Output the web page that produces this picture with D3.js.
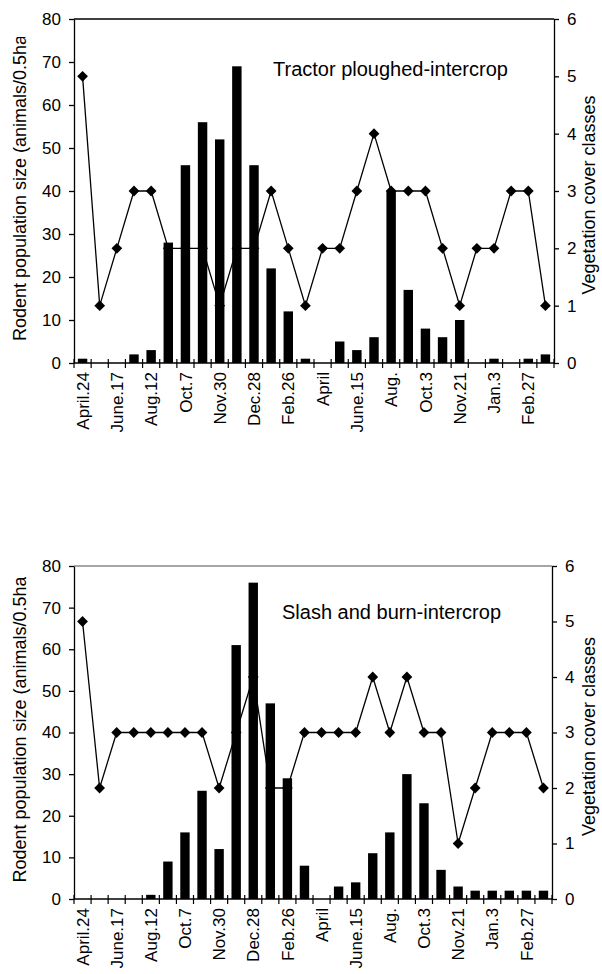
<!DOCTYPE html>
<html>
<head>
<meta charset="utf-8">
<script src="https://d3js.org/d3.v7.min.js"></script>
<style>
  body { margin: 0; background: #fff; }
  text { font-family: "Liberation Sans", Arial, sans-serif; fill: #000; }
</style>
</head>
<body>
<svg width="602" height="974"></svg>
<script>
// sampling dates, only every other one is labelled
var dates = ["April.24", "", "June.17", "", "Aug.12", "", "Oct.7", "", "Nov.30", "", "Dec.28", "",
  "Feb.26", "", "April", "", "June.15", "", "Aug.", "", "Oct.3", "", "Nov.21", "", "Jan.3", "", "Feb.27", ""]

var tractorRodents = [1, 0, 0, 2, 3, 28, 46, 56, 52, 69, 46, 22, 12, 1, 0, 5, 3, 6, 40, 17, 8, 6, 10, 0, 1, 0, 1, 2]
var tractorCover = [5, 1, 2, 3, 3, 2, 2, 2, 1, 2, 2, 3, 2, 1, 2, 2, 3, 4, 3, 3, 3, 2, 1, 2, 2, 3, 3, 1]

var slashRodents = [0, 0, 0, 0, 1, 9, 16, 26, 12, 61, 76, 47, 29, 8, 0, 3, 4, 11, 16, 30, 23, 7, 3, 2, 2, 2, 2, 2]
var slashCover = [5, 2, 3, 3, 3, 3, 3, 3, 2, 3, 4, 2, 2, 3, 3, 3, 3, 4, 3, 4, 3, 3, 1, 2, 3, 3, 3, 2]

var rodentTicks = [0, 10, 20, 30, 40, 50, 60, 70, 80]
var coverTicks = [0, 1, 2, 3, 4, 5, 6]

var leftTitle = "Rodent population size (animals/0.5ha)"
var rightTitle = "Vegetation cover classes"

var panels = [
  { title: "Tractor ploughed-intercrop", rodents: tractorRodents, cover: tractorCover,
    top: 19, bottom: 363, left: 74, right: 554, clipTop: 37, border: "#000", tx: 273, ty: 76 },
  { title: "Slash and burn-intercrop", rodents: slashRodents, cover: slashCover,
    top: 566, bottom: 899, left: 74, right: 552, clipTop: 577, border: "#888", tx: 282, ty: 619 }
]

var svg = d3.select('svg')

panels.forEach(function(p, pi) {
  var g = svg.append('g')

  var x = d3.scaleBand()
    .domain(d3.range(dates.length))
    .range([p.left, p.right])
  var xEdge = d3.scaleLinear()
    .domain([0, dates.length])
    .range([p.left, p.right])
  var yL = d3.scaleLinear().domain([0, 80]).range([p.bottom, p.top])
  var yR = d3.scaleLinear().domain([0, 6]).range([p.bottom, p.top])

  var bw = x.bandwidth() * 0.55

  // top frame line
  g.append('line')
    .attr('x1', p.left).attr('x2', p.right)
    .attr('y1', p.top).attr('y2', p.top)
    .attr('stroke', p.border).attr('stroke-width', 1.3)

  // bars
  g.selectAll('rect.bar')
    .data(p.rodents)
    .join('rect')
    .attr('class', 'bar')
    .attr('x', (d, i) => x(i) + (x.bandwidth() - bw) / 2)
    .attr('width', bw)
    .attr('y', d => yL(d))
    .attr('height', d => yL(0) - yL(d))
    .attr('fill', '#000')

  // x axis line and boundary ticks
  g.append('line')
    .attr('x1', p.left).attr('x2', p.right)
    .attr('y1', p.bottom).attr('y2', p.bottom)
    .attr('stroke', '#000').attr('stroke-width', 1.3)
  g.selectAll('line.xtick')
    .data(d3.range(dates.length + 1))
    .join('line')
    .attr('class', 'xtick')
    .attr('x1', d => xEdge(d)).attr('x2', d => xEdge(d))
    .attr('y1', p.bottom - 4).attr('y2', p.bottom + 5)
    .attr('stroke', '#000').attr('stroke-width', 1.2)

  // x labels
  g.selectAll('text.xlab')
    .data(dates)
    .join('text')
    .attr('class', 'xlab')
    .attr('transform', (d, i) => 'translate(' + (x(i) + x.bandwidth() / 2) + ',' + (p.bottom + 9) + ') rotate(-90)')
    .attr('dy', '0.36em')
    .attr('text-anchor', 'end')
    .style('font-size', '17px')
    .text(d => d)

  // left axis
  var axL = g.append('g')
    .attr('transform', 'translate(' + p.left + ',0)')
    .call(d3.axisLeft(yL).tickValues(rodentTicks).tickSize(5).tickSizeOuter(0).tickPadding(8))
  // right axis
  var axR = g.append('g')
    .attr('transform', 'translate(' + p.right + ',0)')
    .call(d3.axisRight(yR).tickValues(coverTicks).tickFormat(d3.format('d'))
      .tickSize(5).tickSizeOuter(0).tickPadding(8))
  ;[axL, axR].forEach(function(a) {
    a.selectAll('path, line').attr('stroke', '#000').attr('stroke-width', 1.3)
    a.selectAll('text').style('font-size', '17px').attr('font-family', null)
  })

  // vegetation cover line + diamond markers
  var line = d3.line()
    .x((d, i) => x(i) + x.bandwidth() / 2)
    .y(d => yR(d))
  g.append('path')
    .attr('d', line(p.cover))
    .attr('fill', 'none')
    .attr('stroke', '#000')
    .attr('stroke-width', 1.3)
  var diamond = d3.symbol(d3.symbolSquare, 58)
  g.selectAll('path.mk')
    .data(p.cover)
    .join('path')
    .attr('class', 'mk')
    .attr('d', diamond)
    .attr('transform', (d, i) => 'translate(' + (x(i) + x.bandwidth() / 2) + ',' + yR(d) + ') rotate(45)')
    .attr('fill', '#000')

  // panel annotation
  g.append('text')
    .attr('x', p.tx).attr('y', p.ty)
    .style('font-size', '20px')
    .text(p.title)

  // axis titles (left one is cut off by the chart area)
  svg.append('clipPath').attr('id', 'clip' + pi)
    .append('rect')
    .attr('x', 0).attr('y', p.clipTop)
    .attr('width', 60).attr('height', p.bottom - p.clipTop + 40)
  var mid = (p.top + p.bottom) / 2
  g.append('g').attr('clip-path', 'url(#clip' + pi + ')')
    .append('text')
    .attr('transform', 'translate(26,' + (mid - 6) + ') rotate(-90)')
    .attr('text-anchor', 'middle')
    .style('font-size', '18px')
    .text(leftTitle)
  g.append('text')
    .attr('transform', 'translate(595,' + (mid + 4) + ') rotate(-90)')
    .attr('text-anchor', 'middle')
    .style('font-size', '18px')
    .text(rightTitle)
})
</script>
</body>
</html>
